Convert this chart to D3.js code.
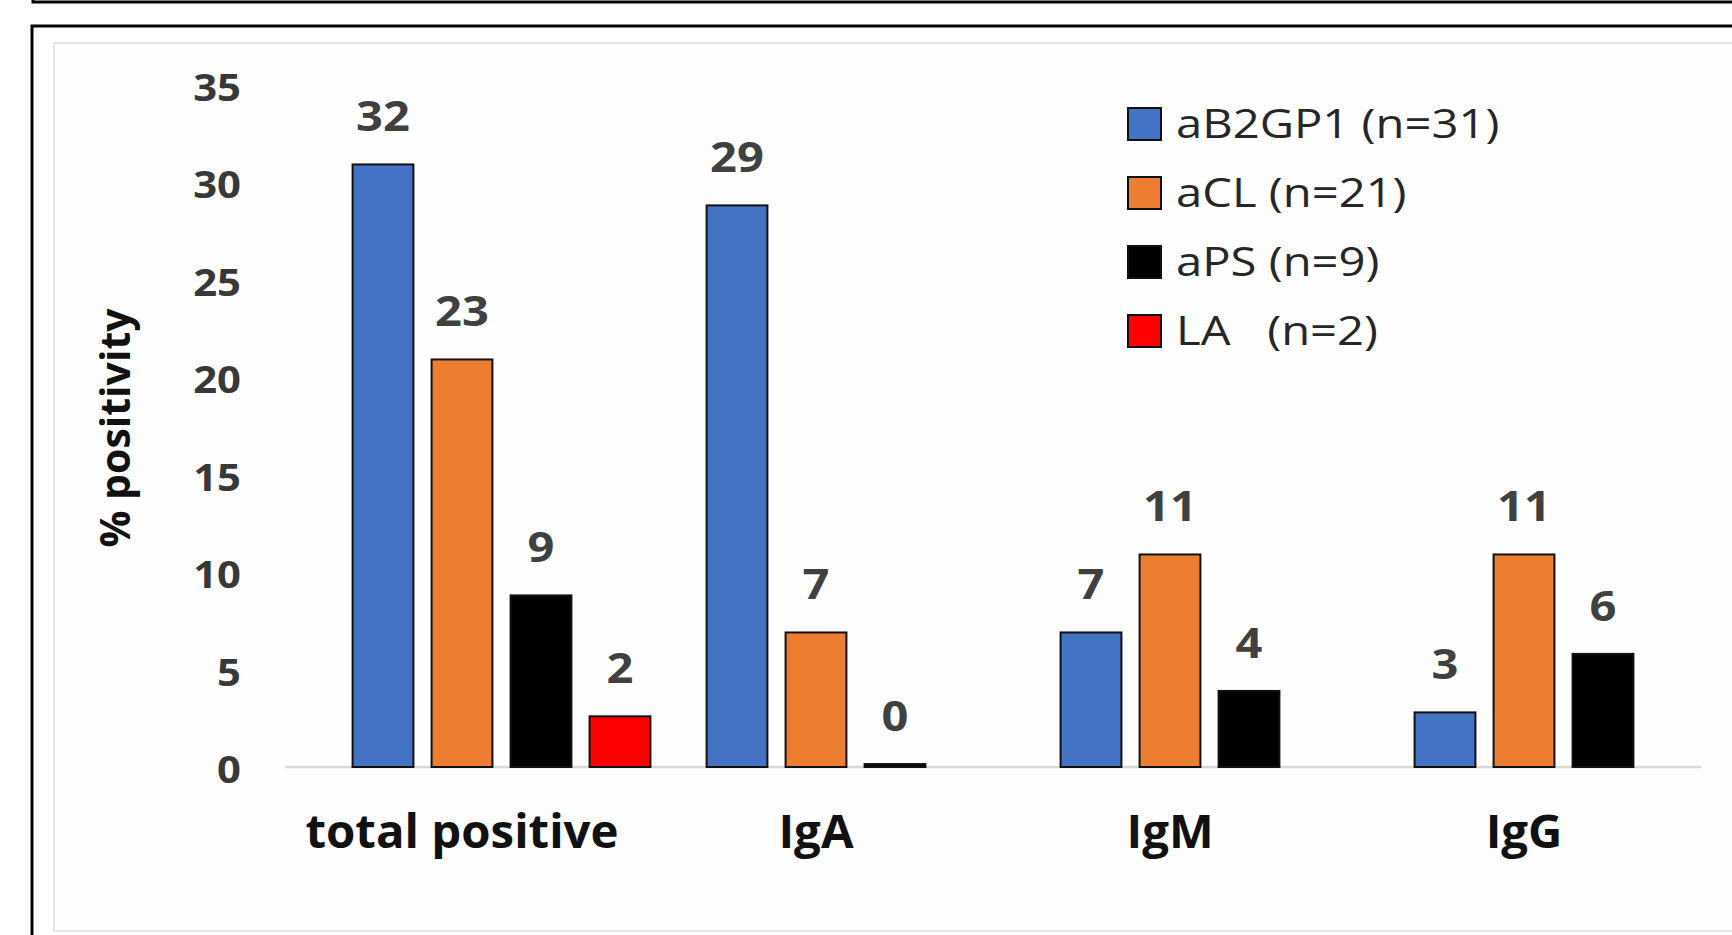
<!DOCTYPE html>
<html>
<head>
<meta charset="utf-8">
<script src="https://cdn.jsdelivr.net/npm/d3@7"></script>
<style>
  html, body { margin: 0; padding: 0; background: #ffffff; }
  svg { display: block; }
  text { font-family: "Open Sans", "Noto Sans", sans-serif; }
</style>
</head>
<body>
<svg id="chart" width="1732" height="935"></svg>
<script>
// ---- data ----
const categories = ["total positive", "IgA", "IgM", "IgG"];
const seriesNames = ["aB2GP1 (n=31)", "aCL (n=21)", "aPS (n=9)", "LA   (n=2)"];
const seriesKeys = ["aB2GP1", "aCL", "aPS", "LA"];
const seriesColors = ["#4472C4", "#ED7D31", "#000000", "#FF0000"];
// bar heights as drawn
const aB2GP1 = [30.9, 28.8, 6.9, 2.8];
const aCL = [20.9, 6.9, 10.9, 10.9];
const aPS = [8.8, 0.15, 3.9, 5.8];
const LA = [2.6, null, null, null];
// data labels as printed
const aB2GP1Labels = ["32", "29", "7", "3"];
const aCLLabels = ["23", "7", "11", "11"];
const aPSLabels = ["9", "0", "4", "6"];
const LALabels = ["2", null, null, null];
const yTicks = [0, 5, 10, 15, 20, 25, 30, 35];
const yTitle = "% positivity";

const seriesValues = [aB2GP1, aCL, aPS, LA];
const seriesLabels = [aB2GP1Labels, aCLLabels, aPSLabels, LALabels];

const svg = d3.select("#chart");

// frames
svg.append("rect").attr("x", 33).attr("y", -20).attr("width", 1760).attr("height", 22)
  .attr("fill", "none").attr("stroke", "#000").attr("stroke-width", 3);
svg.append("rect").attr("x", 32).attr("y", 26).attr("width", 1760).attr("height", 1000)
  .attr("fill", "#fff").attr("stroke", "#000").attr("stroke-width", 3);
svg.append("rect").attr("x", 54).attr("y", 43).attr("width", 1760).attr("height", 888)
  .attr("fill", "#fefefe").attr("stroke", "#e6e6e6").attr("stroke-width", 2);

// scales
const x0 = d3.scaleBand().domain(categories).range([285, 1701]).padding(0);
const step = 79;
// series slots: blue one step left of category centre, orange at centre, then black, red
const x1 = d3.scaleBand().domain(seriesKeys)
  .range([-step * 1.5, step * 2.5]).paddingInner(0.23).paddingOuter(0.115);
const y = d3.scaleLinear().domain([0, 35]).range([767, 84.5]);

// y tick labels (no axis line)
const yAxis = d3.axisLeft(y).tickValues(yTicks).tickSize(0).tickPadding(0);
const gy = svg.append("g").attr("transform", "translate(241,0)").call(yAxis);
gy.select(".domain").remove();
gy.selectAll("text")
  .attr("font-family", "'Open Sans', sans-serif")
  .attr("font-size", 38).attr("font-weight", 700).attr("fill", "#383838")
  .attr("x", 0).attr("y", 2).attr("dy", "0.36em")
  .attr("transform", "scale(1.1,1)");

// baseline
svg.append("line").attr("x1", x0.range()[0]).attr("x2", x0.range()[1])
  .attr("y1", y(0)).attr("y2", y(0)).attr("stroke", "#d9d9d9").attr("stroke-width", 2.5);

// bars
const groups = svg.append("g").selectAll("g").data(categories).join("g")
  .attr("transform", d => `translate(${x0(d) + x0.bandwidth() / 2},0)`);

seriesKeys.forEach((k, si) => {
  groups.each(function (cat, ci) {
    const v = seriesValues[si][ci];
    if (v === null || v === undefined) return;
    const g = d3.select(this);
    g.append("rect")
      .attr("x", x1(k)).attr("width", x1.bandwidth())
      .attr("y", y(v)).attr("height", y(0) - y(v))
      .attr("fill", seriesColors[si]).attr("stroke", "#111").attr("stroke-width", 2);
    const lab = seriesLabels[si][ci];
    if (lab !== null) {
      g.append("text")
        .attr("transform", `translate(${x1(k) + x1.bandwidth() / 2},${y(v) - 33}) scale(1.12,1)`)
        .attr("text-anchor", "middle")
        .attr("font-size", 42).attr("font-weight", 700).attr("fill", "#404040")
        .text(lab);
    }
  });
});

// category labels
const xAxis = d3.axisBottom(x0).tickSize(0).tickPadding(0);
const gx = svg.append("g").attr("transform", `translate(0,${y(0)})`).call(xAxis);
gx.select(".domain").remove();
gx.selectAll("text")
  .attr("font-family", "'Open Sans', sans-serif")
  .attr("font-size", 46).attr("font-weight", 700).attr("fill", "#111")
  .attr("dy", 0).attr("y", 0)
  .attr("transform", "translate(0,81) scale(1.03,1)");

// y title
svg.append("text")
  .attr("transform", "translate(130,428) rotate(-90)")
  .attr("text-anchor", "middle")
  .attr("font-size", 41).attr("font-weight", 700).attr("fill", "#111")
  .text(yTitle);

// legend
const legend = svg.append("g").attr("transform", "translate(1128,108)");
const lg = legend.selectAll("g").data(seriesNames).join("g")
  .attr("transform", (d, i) => `translate(0,${i * 69})`);
lg.append("rect").attr("x", 0).attr("y", 0).attr("width", 33).attr("height", 32)
  .attr("fill", (d, i) => seriesColors[i]).attr("stroke", "#111").attr("stroke-width", 2);
lg.append("text")
  .attr("transform", "translate(48,16) scale(1.18,1)")
  .attr("dy", "0.35em")
  .attr("font-size", 40).attr("fill", "#262626")
  .style("white-space", "pre")
  .text(d => d);
</script>
</body>
</html>
